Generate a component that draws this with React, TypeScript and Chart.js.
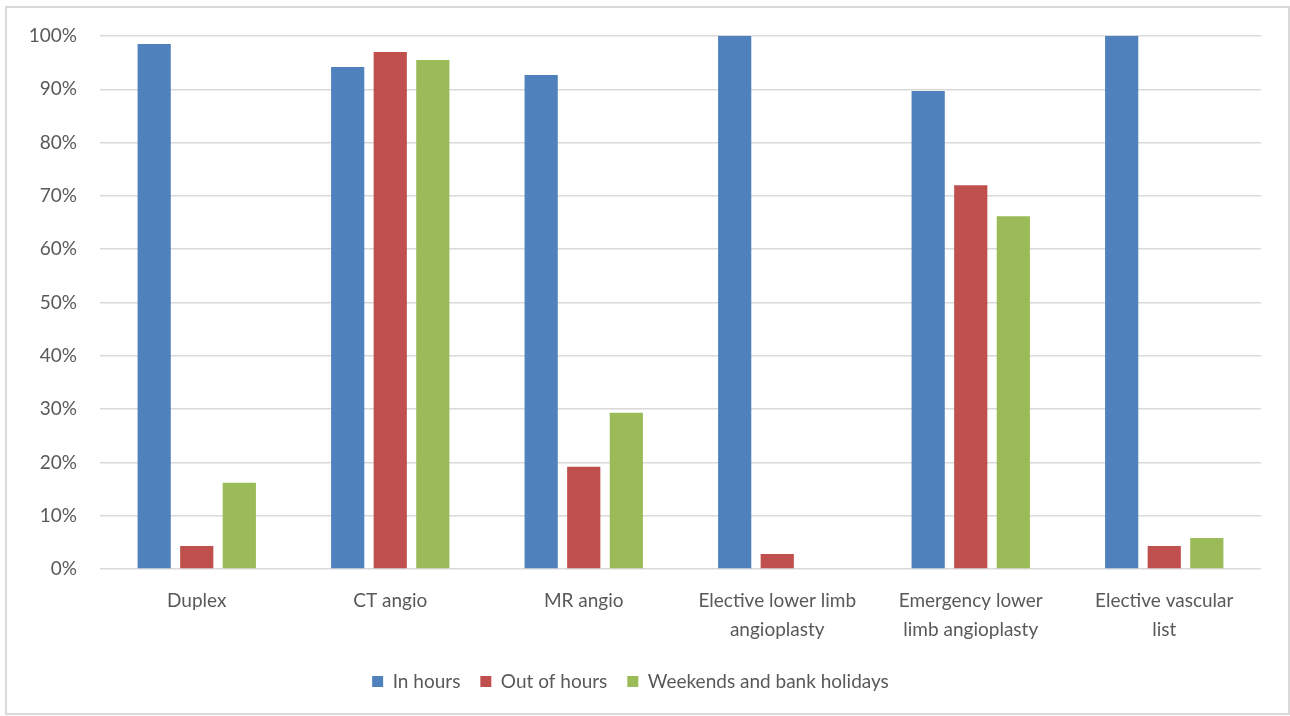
import React, { useEffect, useRef } from "react";
import { Chart, registerables } from "chart.js";

Chart.register(...registerables);

const categories: string[][] = [
  ["Duplex"],
  ["CT angio"],
  ["MR angio"],
  ["Elective lower limb", "angioplasty"],
  ["Emergency lower", "limb angioplasty"],
  ["Elective vascular", "list"],
];
const seriesNames = ["In hours", "Out of hours", "Weekends and bank holidays"];
const inHours = [98.5, 94.2, 92.7, 100, 89.7, 100];
const outOfHours = [4.3, 97.0, 19.2, 2.8, 72.0, 4.3];
const weekends = [16.2, 95.5, 29.3, 0, 66.2, 5.8];
const yMin = 0;
const yMax = 100;
const yStep = 10;

const colors = ["#4F81BD", "#C0504D", "#9BBB59"];
const FONT = "Lato, 'Open Sans', sans-serif";
const TEXT = "#595959";

export default function App() {
  const ref = useRef<HTMLCanvasElement | null>(null);

  useEffect(() => {
    if (!ref.current) return;
    const chart = new Chart(ref.current, {
      type: "bar",
      data: {
        labels: categories,
        datasets: [inHours, outOfHours, weekends].map((d, i) => ({
          label: seriesNames[i],
          data: d,
          backgroundColor: colors[i],
          borderWidth: 0,
          categoryPercentage: 0.66,
          barPercentage: 0.78,
        })),
      },
      options: {
        responsive: false,
        animation: false,
        maintainAspectRatio: false,
        layout: { padding: { left: 0, right: 29, top: 36, bottom: 15 } },
        plugins: {
          tooltip: { enabled: false },
          legend: {
            position: "bottom",
            labels: {
              boxWidth: 11,
              boxHeight: 11,
              padding: 20,
              color: TEXT,
              font: { family: FONT, size: 19 },
            },
          },
        },
        scales: {
          x: {
            grid: { display: false, drawTicks: false },
            border: { display: false },
            ticks: {
              color: TEXT,
              font: { family: FONT, size: 19, lineHeight: 1.5 },
              padding: 18,
              maxRotation: 0,
              autoSkip: false,
            },
            afterFit: (s: any) => {
              s.height = 83;
            },
          },
          y: {
            min: yMin,
            max: yMax,
            grid: { color: "#d9d9d9", lineWidth: 1.5, drawTicks: false },
            border: { display: false },
            ticks: {
              stepSize: yStep,
              color: TEXT,
              font: { family: FONT, size: 19 },
              padding: 23,
              callback: (v: any) => `${v}%`,
            },
            afterFit: (s: any) => {
              s.width = 100;
            },
          },
        },
      },
    });
    return () => chart.destroy();
  }, []);

  return (
    <div
      style={{
        position: "absolute",
        left: 0,
        top: 0,
        width: 1290,
        height: 716,
        background: "#ffffff",
      }}
    >
      <div
        style={{
          position: "absolute",
          left: 5,
          top: 6,
          width: 1285,
          height: 709,
          boxSizing: "border-box",
          border: "2px solid #d9d9d9",
        }}
      />
      <canvas
        ref={ref}
        width={1290}
        height={716}
        style={{ position: "absolute", left: 0, top: 0, width: 1290, height: 716 }}
      />
    </div>
  );
}
